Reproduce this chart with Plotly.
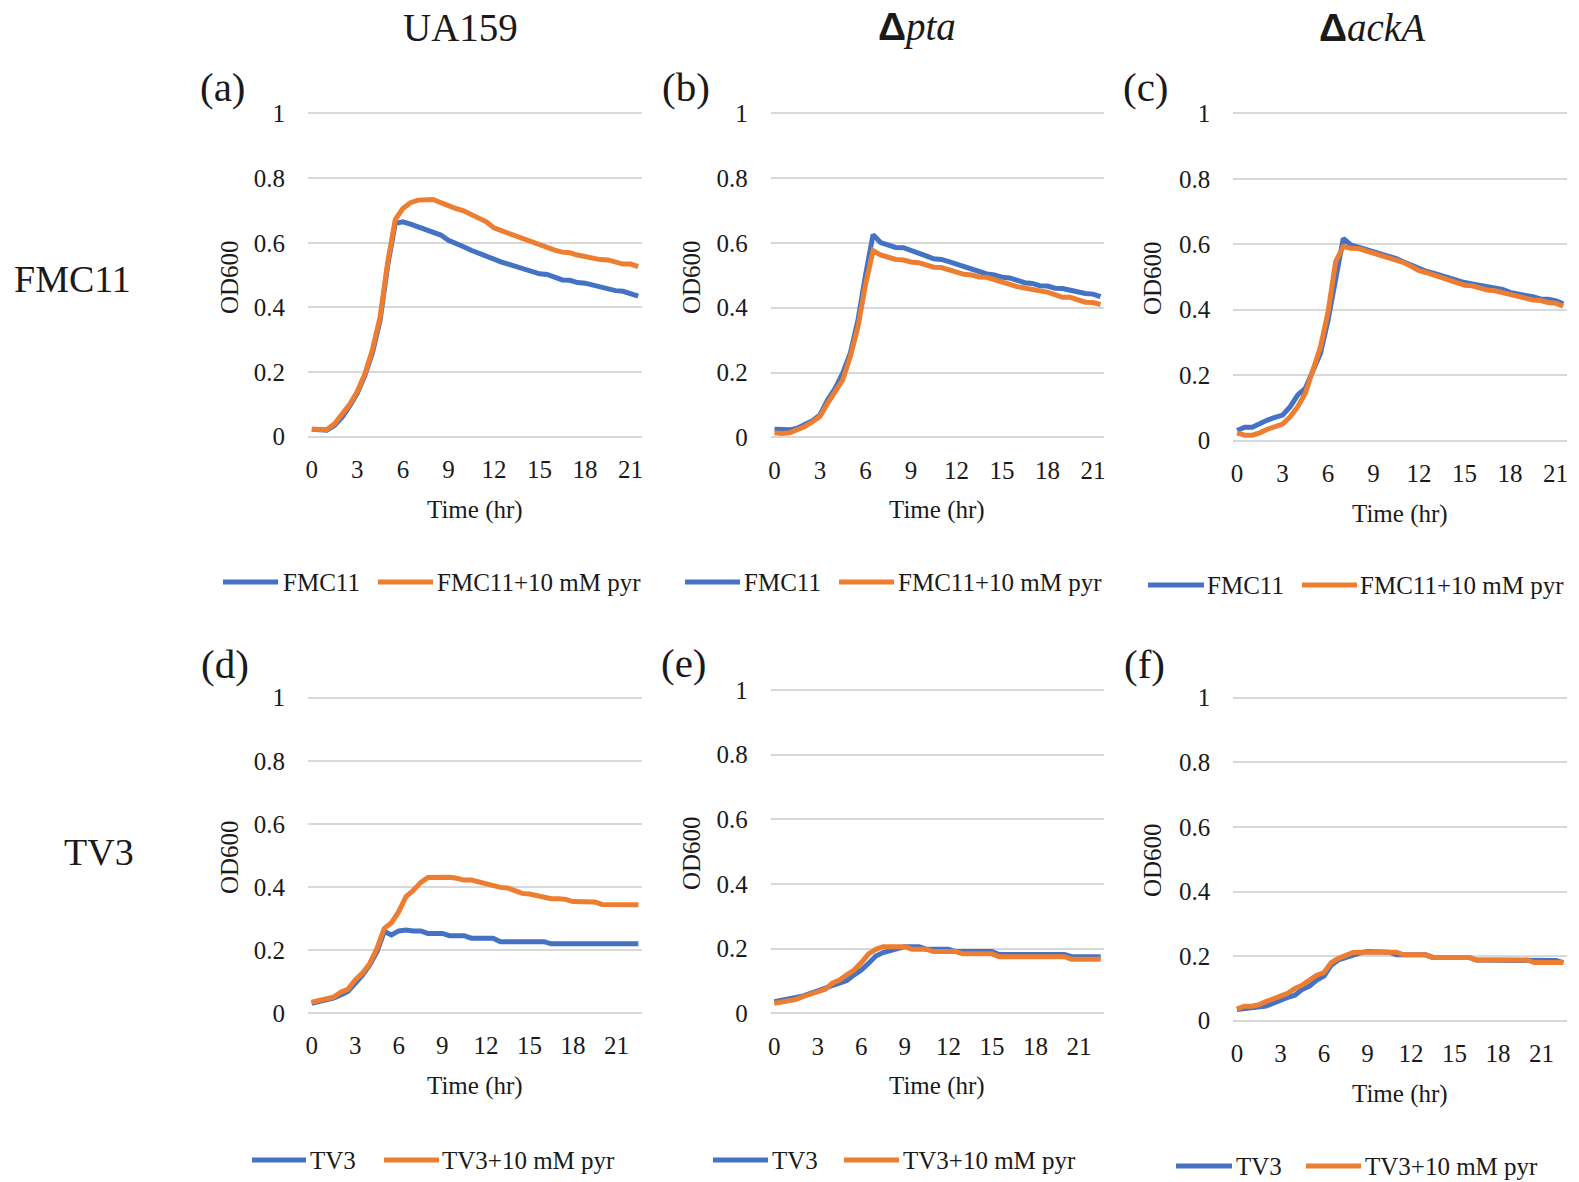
import plotly.graph_objects as go

W, H = 1579, 1182

# ---------------- data ----------------
time_row1 = [0, 0.5, 1, 1.5, 2, 2.5, 3, 3.5, 4, 4.5, 5, 5.5, 6, 6.5, 7, 7.5, 8, 8.5, 9, 9.5,
             10, 10.5, 11, 11.5, 12, 12.5, 13, 13.5, 14, 14.5, 15, 15.5, 16, 16.5, 17, 17.5,
             18, 18.5, 19, 19.5, 20, 20.5, 21, 21.5]
time_row2 = time_row1 + [22, 22.5]

x_ticks = [0, 3, 6, 9, 12, 15, 18, 21]
y_ticks = [0, 0.2, 0.4, 0.6, 0.8, 1]
y_ticklabels = ["0", "0.2", "0.4", "0.6", "0.8", "1"]

a_fmc11 = [0.023, 0.02, 0.02, 0.035, 0.06, 0.095, 0.135, 0.19, 0.26, 0.36,
           0.53, 0.66, 0.665, 0.658, 0.65, 0.641, 0.633, 0.624, 0.608, 0.6,
           0.588, 0.577, 0.567, 0.557, 0.548, 0.54, 0.533, 0.526, 0.519, 0.511,
           0.504, 0.502, 0.492, 0.485, 0.484, 0.477, 0.475, 0.469, 0.465, 0.458,
           0.452, 0.45, 0.443, 0.435]
a_fmc11_pyr = [0.023, 0.021, 0.022, 0.04, 0.07, 0.10, 0.14, 0.195, 0.27, 0.37,
               0.54, 0.672, 0.706, 0.724, 0.732, 0.734, 0.734, 0.724, 0.714, 0.706,
               0.699, 0.689, 0.675, 0.665, 0.646, 0.637, 0.629, 0.62, 0.612, 0.604,
               0.595, 0.585, 0.577, 0.571, 0.569, 0.562, 0.557, 0.554, 0.548, 0.547,
               0.541, 0.534, 0.534, 0.526]

b_fmc11 = [0.025, 0.024, 0.023, 0.028, 0.038, 0.051, 0.069, 0.115, 0.151, 0.198,
           0.26, 0.36, 0.50, 0.625, 0.601, 0.594, 0.586, 0.585, 0.578, 0.57,
           0.56, 0.551, 0.549, 0.542, 0.534, 0.527, 0.519, 0.509, 0.504, 0.501,
           0.494, 0.492, 0.486, 0.477, 0.475, 0.468, 0.467, 0.46, 0.459, 0.453,
           0.448, 0.444, 0.442, 0.434]
b_fmc11_pyr = [0.014, 0.012, 0.014, 0.023, 0.033, 0.048, 0.064, 0.105, 0.141, 0.177,
               0.249, 0.34, 0.47, 0.576, 0.563, 0.556, 0.549, 0.547, 0.541, 0.539,
               0.531, 0.525, 0.524, 0.516, 0.509, 0.503, 0.501, 0.495, 0.494, 0.486,
               0.478, 0.472, 0.465, 0.461, 0.455, 0.452, 0.448, 0.439, 0.432, 0.432,
               0.424, 0.417, 0.416, 0.41]

c_fmc11 = [0.031, 0.041, 0.041, 0.053, 0.063, 0.071, 0.078, 0.104, 0.14, 0.16,
           0.211, 0.267, 0.369, 0.501, 0.618, 0.598, 0.591, 0.587, 0.58, 0.572,
           0.564, 0.556, 0.546, 0.535, 0.524, 0.517, 0.511, 0.503, 0.496, 0.489,
           0.483, 0.479, 0.474, 0.47, 0.464, 0.462, 0.453, 0.45, 0.444, 0.44,
           0.433, 0.432, 0.428, 0.418]
c_fmc11_pyr = [0.024, 0.017, 0.017, 0.024, 0.035, 0.043, 0.051, 0.073, 0.104, 0.145,
               0.216, 0.287, 0.394, 0.547, 0.593, 0.588, 0.587, 0.58, 0.572, 0.567,
               0.56, 0.552, 0.544, 0.532, 0.519, 0.513, 0.506, 0.499, 0.491, 0.484,
               0.475, 0.473, 0.465, 0.46, 0.458, 0.452, 0.447, 0.443, 0.437, 0.43,
               0.428, 0.422, 0.42, 0.411]

d_tv3 = [0.032, 0.037, 0.04, 0.048, 0.058, 0.069, 0.095, 0.121, 0.153, 0.195,
         0.259, 0.248, 0.261, 0.264, 0.261, 0.261, 0.253, 0.253, 0.253, 0.246,
         0.246, 0.246, 0.238, 0.238, 0.238, 0.238, 0.227, 0.227, 0.227, 0.227,
         0.227, 0.227, 0.227, 0.22, 0.22, 0.22, 0.22, 0.22, 0.22, 0.22,
         0.22, 0.22, 0.22, 0.22, 0.22, 0.22]
d_tv3_pyr = [0.035, 0.04, 0.042, 0.051, 0.067, 0.076, 0.106, 0.127, 0.158, 0.206,
             0.269, 0.287, 0.322, 0.37, 0.389, 0.414, 0.43, 0.43, 0.433, 0.431,
             0.428, 0.422, 0.422, 0.416, 0.414, 0.407, 0.399, 0.397, 0.389, 0.38,
             0.378, 0.372, 0.37, 0.363, 0.363, 0.361, 0.354, 0.354, 0.354, 0.353,
             0.345, 0.344, 0.344, 0.344, 0.344, 0.344]

e_tv3 = [0.036, 0.041, 0.043, 0.049, 0.054, 0.062, 0.069, 0.077, 0.086, 0.093,
         0.101, 0.119, 0.134, 0.155, 0.177, 0.188, 0.194, 0.201, 0.206, 0.206,
         0.206, 0.198, 0.198, 0.198, 0.198, 0.191, 0.191, 0.191, 0.191, 0.191,
         0.191, 0.182, 0.182, 0.182, 0.182, 0.182, 0.182, 0.182, 0.182, 0.182,
         0.182, 0.175, 0.175, 0.175, 0.175, 0.175]
e_tv3_pyr = [0.031, 0.034, 0.039, 0.043, 0.052, 0.06, 0.067, 0.074, 0.093, 0.103,
             0.119, 0.134, 0.157, 0.184, 0.198, 0.206, 0.206, 0.206, 0.206, 0.198,
             0.198, 0.198, 0.191, 0.191, 0.191, 0.191, 0.184, 0.184, 0.184, 0.184,
             0.184, 0.175, 0.175, 0.175, 0.175, 0.175, 0.175, 0.175, 0.175, 0.175,
             0.175, 0.167, 0.167, 0.167, 0.167, 0.167]

f_tv3 = [0.035, 0.038, 0.038, 0.043, 0.045, 0.054, 0.064, 0.072, 0.079, 0.097,
         0.107, 0.126, 0.138, 0.172, 0.188, 0.196, 0.206, 0.21, 0.214, 0.213,
         0.212, 0.212, 0.204, 0.204, 0.204, 0.204, 0.204, 0.196, 0.196, 0.196,
         0.196, 0.196, 0.196, 0.188, 0.188, 0.188, 0.188, 0.188, 0.188, 0.188,
         0.188, 0.188, 0.188, 0.188, 0.186, 0.18]
f_tv3_pyr = [0.036, 0.045, 0.045, 0.049, 0.059, 0.066, 0.076, 0.085, 0.1, 0.11,
             0.126, 0.141, 0.149, 0.18, 0.193, 0.2, 0.211, 0.212, 0.214, 0.213,
             0.212, 0.212, 0.212, 0.204, 0.204, 0.204, 0.204, 0.196, 0.196, 0.196,
             0.196, 0.196, 0.196, 0.188, 0.188, 0.188, 0.188, 0.188, 0.188, 0.188,
             0.188, 0.18, 0.18, 0.18, 0.18, 0.18]

DELTA = '<span style="font-family:Liberation Sans"><b>Δ</b></span>'
col_titles = ["UA159", DELTA + "<i>pta</i>", DELTA + "<i>ackA</i>"]
row_titles = ["FMC11", "TV3"]
panel_labels = ["(a)", "(b)", "(c)", "(d)", "(e)", "(f)"]

BLUE = "#4472C4"
ORANGE = "#ED7D31"
FONT = "Liberation Serif"
TXT = "#1a1a1a"
LW = 5

# ---------------- layout geometry (pixels) ----------------
panels = [
    dict(x0=308, x1=642, yt=113.5, yb=436.7, xmax=21.75, t=time_row1, s1=a_fmc11, s2=a_fmc11_pyr,
         n1="FMC11", n2="FMC11+10 mM pyr", lab=(223, 87), od=(229, 277), tm=(475, 510),
         leg=dict(y=582, l1=(223, 278), t1=281, l2=(378, 433), t2=435)),
    dict(x0=770.7, x1=1104.3, yt=113.3, yb=437.3, xmax=21.75, t=time_row1, s1=b_fmc11, s2=b_fmc11_pyr,
         n1="FMC11", n2="FMC11+10 mM pyr", lab=(686, 87), od=(691, 277), tm=(937, 510),
         leg=dict(y=582, l1=(685, 740), t1=742, l2=(839, 894), t2=896)),
    dict(x0=1233.3, x1=1567, yt=113.3, yb=440.7, xmax=21.75, t=time_row1, s1=c_fmc11, s2=c_fmc11_pyr,
         n1="FMC11", n2="FMC11+10 mM pyr", lab=(1146, 87), od=(1152, 278), tm=(1400, 514),
         leg=dict(y=585, l1=(1148, 1204), t1=1205, l2=(1302, 1357), t2=1358)),
    dict(x0=308, x1=642, yt=697.7, yb=1013.3, xmax=22.75, t=time_row2, s1=d_tv3, s2=d_tv3_pyr,
         n1="TV3", n2="TV3+10 mM pyr", lab=(225, 664), od=(229, 857), tm=(475, 1086),
         leg=dict(y=1160, l1=(252, 306), t1=308, l2=(384, 439), t2=440)),
    dict(x0=770.7, x1=1104.3, yt=690, yb=1013.3, xmax=22.75, t=time_row2, s1=e_tv3, s2=e_tv3_pyr,
         n1="TV3", n2="TV3+10 mM pyr", lab=(684, 663), od=(691, 853), tm=(937, 1086),
         leg=dict(y=1160, l1=(713, 768), t1=770, l2=(844, 899), t2=901)),
    dict(x0=1233.3, x1=1567, yt=697.7, yb=1020.7, xmax=22.75, t=time_row2, s1=f_tv3, s2=f_tv3_pyr,
         n1="TV3", n2="TV3+10 mM pyr", lab=(1144, 664), od=(1152, 860), tm=(1400, 1094),
         leg=dict(y=1166, l1=(1176, 1232), t1=1234, l2=(1306, 1361), t2=1363)),
]

def px(x):
    return x / W

def py(y):
    return 1 - y / H

fig = go.Figure()
layout = dict(
    template="none",
    width=W, height=H,
    margin=dict(l=0, r=0, t=0, b=0, autoexpand=False),
    paper_bgcolor="white", plot_bgcolor="white",
    font=dict(family=FONT, size=25, color=TXT),
    showlegend=False,
    annotations=[], shapes=[],
)

PAD = 0.01
for i, p in enumerate(panels):
    k = "" if i == 0 else str(i + 1)
    xa, ya = "x" + k, "y" + k
    U = p["yb"] - p["yt"]
    fig.add_trace(go.Scatter(x=p["t"], y=p["s1"], mode="lines", name=p["n1"],
                             line=dict(color=BLUE, width=LW), xaxis=xa, yaxis=ya))
    fig.add_trace(go.Scatter(x=p["t"], y=p["s2"], mode="lines", name=p["n2"],
                             line=dict(color=ORANGE, width=LW), xaxis=xa, yaxis=ya))
    layout["xaxis" + k] = dict(
        domain=[px(p["x0"]), px(p["x1"])], anchor=ya, range=[-0.25, p["xmax"]],
        tickvals=x_ticks, showgrid=False, zeroline=False, showline=False, ticks="",
        automargin=False,
        tickfont=dict(family=FONT, size=25, color=TXT), ticklabelstandoff=12,
    )
    layout["yaxis" + k] = dict(
        domain=[py(p["yb"] + PAD * U), py(p["yt"] - PAD * U)], anchor=xa, range=[-PAD, 1 + PAD],
        tickvals=y_ticks, ticktext=y_ticklabels, showgrid=True, gridcolor="#d9d9d9", gridwidth=1.5,
        zeroline=False, showline=False, ticks="", automargin=False,
        tickfont=dict(family=FONT, size=25, color=TXT), ticklabelstandoff=22,
    )
    lg = p["leg"]
    for (lx0, lx1), col, tx, nm in [(lg["l1"], BLUE, lg["t1"], p["n1"]), (lg["l2"], ORANGE, lg["t2"], p["n2"])]:
        layout["shapes"].append(dict(type="line", xref="paper", yref="paper",
                                     x0=px(lx0), x1=px(lx1), y0=py(lg["y"]), y1=py(lg["y"]),
                                     line=dict(color=col, width=LW)))
        layout["annotations"].append(dict(text=nm, x=px(tx), y=py(lg["y"]), xref="paper", yref="paper",
                                          showarrow=False, xanchor="left", yanchor="middle",
                                          font=dict(family=FONT, size=25, color=TXT)))
    layout["annotations"] += [
        dict(text=panel_labels[i], x=px(p["lab"][0]), y=py(p["lab"][1]), xref="paper", yref="paper",
             showarrow=False, xanchor="center", yanchor="middle", font=dict(family=FONT, size=41, color=TXT)),
        dict(text="OD600", x=px(p["od"][0]), y=py(p["od"][1]), xref="paper", yref="paper",
             showarrow=False, textangle=-90, xanchor="center", yanchor="middle",
             font=dict(family=FONT, size=25, color=TXT)),
        dict(text="Time (hr)", x=px(p["tm"][0]), y=py(p["tm"][1]), xref="paper", yref="paper",
             showarrow=False, xanchor="center", yanchor="middle", font=dict(family=FONT, size=25, color=TXT)),
    ]

col_x = [460, 917, 1372]
for cx, ttl in zip(col_x, col_titles):
    layout["annotations"].append(dict(text=ttl, x=px(cx), y=py(27), xref="paper", yref="paper",
                                      showarrow=False, xanchor="center", yanchor="middle",
                                      font=dict(family=FONT, size=39, color=TXT)))
for (rx, ry), ttl in zip([(72, 279), (99, 852)], row_titles):
    layout["annotations"].append(dict(text=ttl, x=px(rx), y=py(ry), xref="paper", yref="paper",
                                      showarrow=False, xanchor="center", yanchor="middle",
                                      font=dict(family=FONT, size=38, color=TXT)))

fig.update_layout(**layout)
fig.write_html("out.html", config={"displayModeBar": False},
               post_script="document.body.style.margin='0';document.body.style.overflow='hidden';")
